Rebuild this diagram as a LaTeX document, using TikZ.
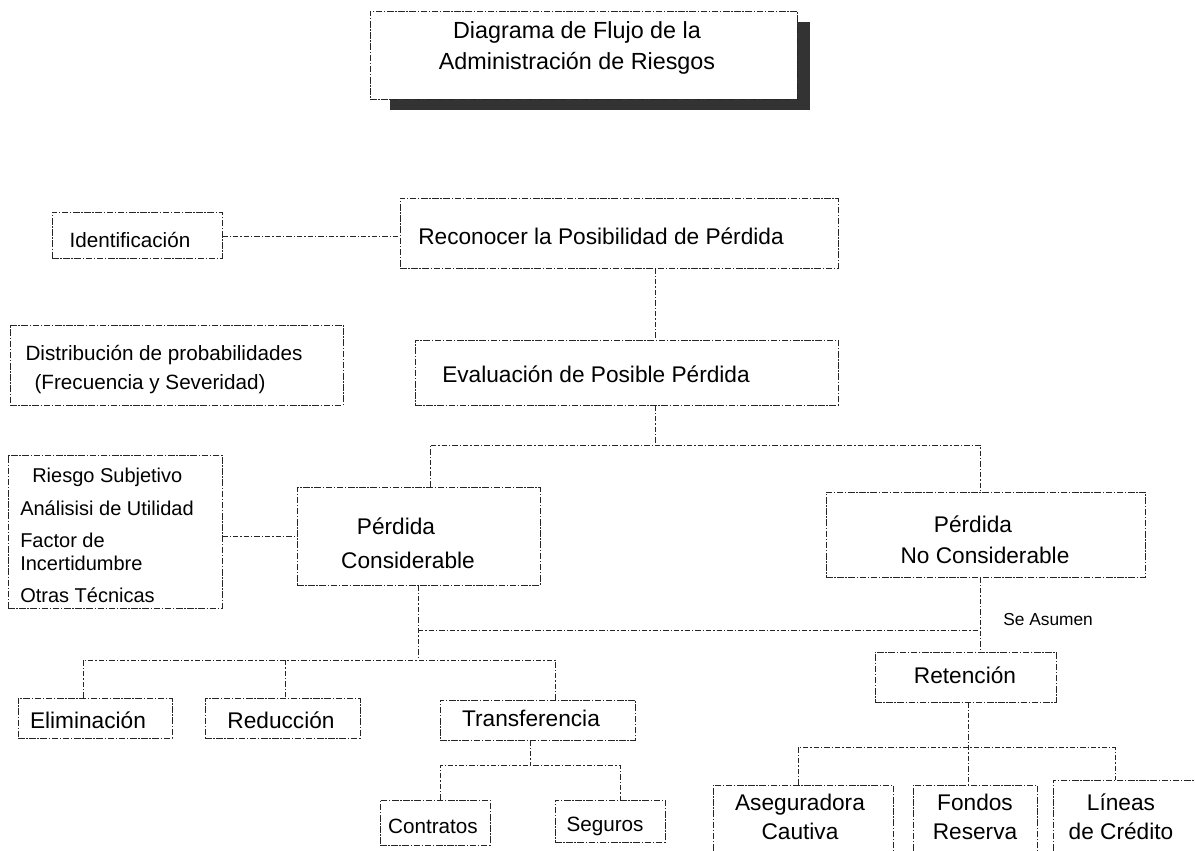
\documentclass[tikz,border=0pt]{standalone}
\usepackage{fontspec}
\setmainfont{Liberation Sans}
\usetikzlibrary{fit}

\tikzset{
  frame/.style={draw=black!85, line width=0.7pt,
    dash pattern=on 5pt off 1.2pt on 1pt off 1.2pt, inner sep=0pt, fit={#1}},
  link/.style={draw=black!85, line width=0.7pt,
    dash pattern=on 4pt off 1.5pt on 1pt off 1.5pt},
  txt/.style={inner sep=0pt, font=\fontsize{17}{20}\selectfont, align=center},
  txts/.style={inner sep=0pt, font=\fontsize{15.5}{18}\selectfont, align=center},
  txtl/.style={inner sep=0pt, font=\fontsize{15}{18}\selectfont, align=left, anchor=west},
  small/.style={inner sep=0pt, font=\fontsize{13}{15}\selectfont, anchor=west},
  shadow/.style={fill=black!80, draw=none}
}

\begin{document}
\begin{tikzpicture}[x=0.75pt, y=-0.75pt]
\useasboundingbox (0,0) rectangle (1195,850);
\clip (0,0) rectangle (1195,850);

% title with its drop shadow
\fill[shadow] (797,22) rectangle (810,110);
\fill[shadow] (390,99) rectangle (810,110);
\node[frame={(370,11) (797,99)}, fill=white] (title) {};
\node[txt, font=\fontsize{17.5}{23.5}\selectfont] (titletxt) at (577,48)
  {Diagrama de Flujo de la\\Administración de Riesgos};

% boxes
\node[frame={(52,212) (222,258)}] (ident) {};
\node[frame={(400,198) (838,268)}] (recon) {};
\node[frame={(10,325) (343,405)}] (distrib) {};
\node[frame={(415,340) (838,405)}] (evalu) {};
\node[frame={(8,455) (222,608)}] (riesgo) {};
\node[frame={(297,487) (540,585)}] (pcons) {};
\node[frame={(826,492) (1145,577)}] (pnocons) {};
\node[frame={(875,652) (1056,702)}] (reten) {};
\node[frame={(18,698) (172,738)}] (elim) {};
\node[frame={(205,698) (360,738)}] (reduc) {};
\node[frame={(440,700) (635,740)}] (transf) {};
\node[frame={(380,800) (490,845)}] (contr) {};
\node[frame={(555,800) (665,842)}] (segur) {};
\node[frame={(713,785) (893,870)}] (asegur) {};
\node[frame={(913,785) (1037,870)}] (fondos) {};
\node[frame={(1053,780) (1200,870)}] (lineas) {};

% texts
\node[txts] (identtxt) at (130,240) {Identificación};
\node[txt] (recontxt) at (601,236) {Reconocer la Posibilidad de Pérdida};
\node[txts] (distxt1) at (164,355) {Distribución de probabilidades};
\node[txts] (distxt2) at (150,384) {(Frecuencia y Severidad)};
\node[txt] (evaltxt) at (596,374) {Evaluación de Posible Pérdida};
\node[txtl] (rs1) at (32,477) {Riesgo Subjetivo};
\node[txtl] (rs2) at (20,508) {Análisisi de Utilidad};
\node[txtl] (rs3) at (20,540) {Factor de};
\node[txtl] (rs4) at (20,563) {Incertidumbre};
\node[txtl] (rs5) at (20,595) {Otras Técnicas};
\node[txt] (pcons1) at (396,526) {Pérdida};
\node[txt] (pcons2) at (408,560) {Considerable};
\node[txt] (pno1) at (973,524) {Pérdida};
\node[txt] (pno2) at (985,555) {No Considerable};
\node[small] (asumen) at (1003,620) {Se Asumen};
\node[txt] (retentxt) at (965,675) {Retención};
\node[txt] (elimtxt) at (88,720) {Eliminación};
\node[txt] (reductxt) at (281,720) {Reducción};
\node[txt] (transftxt) at (531,718) {Transferencia};
\node[txts] (contrtxt) at (433,826) {Contratos};
\node[txts] (segurtxt) at (605,826) {Seguros};
\node[txt] (asegtxt) at (800,817) {Aseguradora\\[2pt]Cautiva};
\node[txt] (fondtxt) at (975,817) {Fondos\\[2pt]Reserva};
\node[txt] (linetxt) at (1121,817) {Líneas\\[2pt]de Crédito};

% junction points
\coordinate (ci) at (0,236);
\coordinate (j1) at (655,445);
\coordinate (jl) at (430,445);
\coordinate (jr) at (980,445);
\coordinate (rk) at (0,536);
\coordinate (k) at (418,660);
\coordinate (kl) at (83,660);
\coordinate (km) at (285,660);
\coordinate (kr) at (555,660);
\coordinate (s) at (418,630);
\coordinate (t) at (530,765);
\coordinate (tl) at (440,765);
\coordinate (tr) at (620,765);
\coordinate (q) at (968,747);
\coordinate (ql) at (798,747);
\coordinate (qr) at (1115,747);

% connectors
\draw[link] (ci -| ident.east) -- (ci -| recon.west);
\draw[link] (j1 |- recon.south) -- (j1 |- evalu.north);
\draw[link] (j1 |- evalu.south) -- (j1);
\draw[link] (jl |- pcons.north) -- (jl) -- (jr) -- (jr |- pnocons.north);
\draw[link] (rk -| riesgo.east) -- (rk -| pcons.west);
\draw[link] (k |- pcons.south) -- (k);
\draw[link] (kl |- elim.north) -- (kl) -- (kr) -- (kr |- transf.north);
\draw[link] (km) -- (km |- reduc.north);
\draw[link] (s) -- (s -| jr);
\draw[link] (jr |- pnocons.south) -- (jr |- reten.north);
\draw[link] (t |- transf.south) -- (t);
\draw[link] (tl |- contr.north) -- (tl) -- (tr) -- (tr |- segur.north);
\draw[link] (q |- reten.south) -- (q) -- (q |- fondos.north);
\draw[link] (ql |- asegur.north) -- (ql) -- (qr) -- (qr |- lineas.north);
\end{tikzpicture}
\end{document}
